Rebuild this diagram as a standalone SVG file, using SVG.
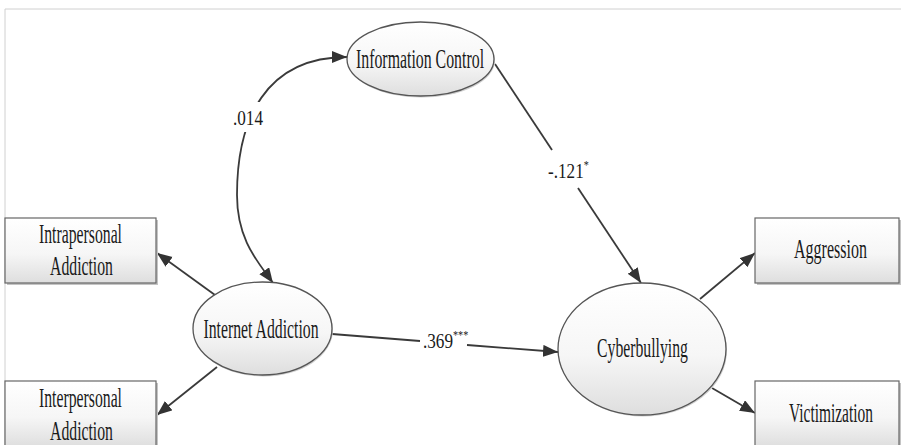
<svg xmlns="http://www.w3.org/2000/svg" width="901" height="445" viewBox="0 0 901 445">
  <defs>
    <linearGradient id="fillGrad" x1="0" y1="0" x2="0" y2="1">
      <stop offset="0" stop-color="#ffffff"/>
      <stop offset="0.55" stop-color="#f6f6f6"/>
      <stop offset="1" stop-color="#dedede"/>
    </linearGradient>
    <marker id="arrow" markerUnits="userSpaceOnUse" markerWidth="17" markerHeight="13" refX="15" refY="6" orient="auto-start-reverse">
      <path d="M0,0 L15,6 L0,12 Z" fill="#333333"/>
    </marker>
  </defs>
  <style>
    .box { fill: url(#fillGrad); stroke: #666666; stroke-width: 1.2; }
    .shadow { fill: #c4c4c4; }
    .oval-shadow { fill: #cfcfcf; }
    .oval { fill: url(#fillGrad); stroke: #555555; stroke-width: 1.3; }
    .lbl { font-family: "Liberation Serif", "Times New Roman", serif; font-size: 28px; fill: #1a1a1a; text-anchor: middle; }
    .coef { font-family: "Liberation Serif", "Times New Roman", serif; font-size: 22px; fill: #1a1a1a; }
    .sup { font-size: 13px; }
    .edge { fill: none; stroke: #3a3a3a; stroke-width: 1.8; }
    .frame { stroke: #d0d0d0; stroke-width: 1; fill: none; }
  </style>

  <rect width="901" height="445" fill="#ffffff"/>
  <path class="frame" d="M5,445 L5,9 L901,9"/>

  <!-- connectors -->
  <g id="connectors">
    <path class="edge" d="M347,57 C265,57 237,120 237,195 C237,240 258,262 273,283" marker-start="url(#arrow)" marker-end="url(#arrow)"/>
    <rect x="228" y="102" width="38" height="30" fill="#ffffff"/>
    <text class="coef" transform="translate(248,125) scale(0.78,1)" text-anchor="middle">.014</text>

    <line class="edge" x1="495" y1="64" x2="552" y2="150"/>
    <line class="edge" x1="578" y1="188" x2="641" y2="283" marker-end="url(#arrow)"/>
    <text class="coef" transform="translate(548,178) scale(0.78,1)">-.121<tspan class="sup" dy="-9">*</tspan></text>

    <line class="edge" x1="332" y1="334" x2="420" y2="341"/>
    <line class="edge" x1="467" y1="345" x2="558" y2="352" marker-end="url(#arrow)"/>
    <text class="coef" transform="translate(423,348) scale(0.78,1)">.369<tspan class="sup" dy="-9">***</tspan></text>

    <line class="edge" x1="215" y1="295" x2="157" y2="253" marker-end="url(#arrow)"/>
    <line class="edge" x1="217" y1="367" x2="157" y2="415" marker-end="url(#arrow)"/>
    <line class="edge" x1="700" y1="299" x2="755" y2="253" marker-end="url(#arrow)"/>
    <line class="edge" x1="712" y1="388" x2="755" y2="413" marker-end="url(#arrow)"/>
  </g>

  <g id="information-control">
    <ellipse class="oval-shadow" cx="421.5" cy="60.5" rx="73.5" ry="37"/>
    <ellipse class="oval" cx="420.5" cy="59" rx="73.5" ry="37"/>
    <text class="lbl" transform="translate(420,68) scale(0.566,1)">Information Control</text>
  </g>

  <g id="internet-addiction">
    <ellipse class="oval-shadow" cx="263.5" cy="330" rx="69.5" ry="46.5"/>
    <ellipse class="oval" cx="262.5" cy="328.5" rx="69.5" ry="46.5"/>
    <text class="lbl" transform="translate(261,338) scale(0.563,1)">Internet Addiction</text>
  </g>

  <g id="cyberbullying">
    <ellipse class="oval-shadow" cx="643" cy="350.5" rx="84" ry="66"/>
    <ellipse class="oval" cx="642" cy="349" rx="84" ry="66"/>
    <text class="lbl" transform="translate(642.5,357) scale(0.562,1)">Cyberbullying</text>
  </g>

  <g id="intrapersonal-addiction">
    <rect class="shadow" x="7" y="220" width="151" height="65"/>
    <rect class="box" x="5" y="218" width="151" height="65"/>
    <text class="lbl" transform="translate(80.5,243) scale(0.562,1)">Intrapersonal</text>
    <text class="lbl" transform="translate(81.5,275) scale(0.562,1)">Addiction</text>
  </g>

  <g id="interpersonal-addiction">
    <rect class="shadow" x="7" y="383" width="151" height="64"/>
    <rect class="box" x="5" y="381" width="151" height="66"/>
    <text class="lbl" transform="translate(80.5,407) scale(0.562,1)">Interpersonal</text>
    <text class="lbl" transform="translate(81.5,440) scale(0.562,1)">Addiction</text>
  </g>

  <g id="aggression">
    <rect class="shadow" x="757" y="220" width="144" height="65"/>
    <rect class="box" x="755" y="218" width="144" height="65"/>
    <text class="lbl" transform="translate(830.5,258) scale(0.572,1)">Aggression</text>
  </g>

  <g id="victimization">
    <rect class="shadow" x="757" y="383" width="144" height="64"/>
    <rect class="box" x="755" y="381" width="144" height="66"/>
    <text class="lbl" transform="translate(831,422) scale(0.551,1)">Victimization</text>
  </g>
</svg>
